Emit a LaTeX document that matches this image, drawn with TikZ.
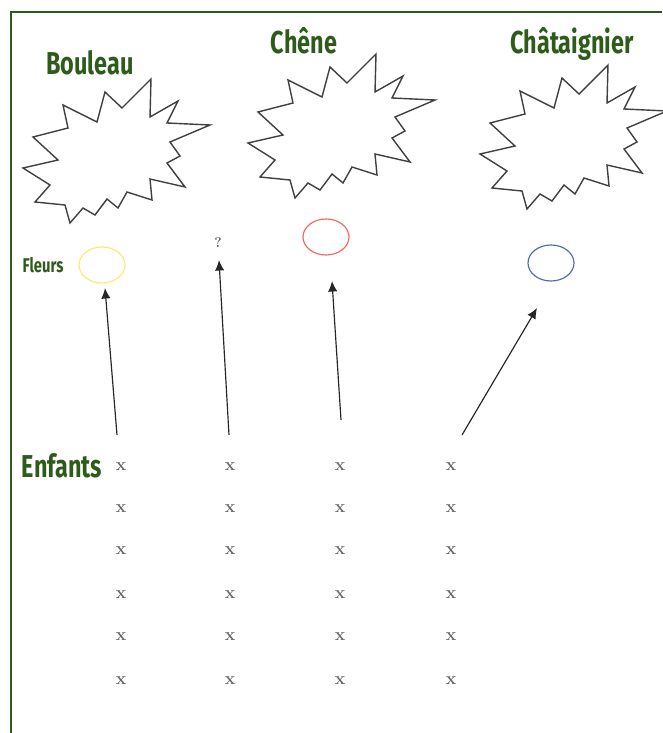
\documentclass[tikz,border=0pt]{standalone}
\usepackage{fontspec}
\newfontfamily\titrefont[FakeStretch=0.74]{Fira Sans}
\usetikzlibrary{arrows.meta,shapes.geometric}
\definecolor{vertfonce}{RGB}{45,92,26}
\definecolor{fleurjaune}{RGB}{250,235,110}
\definecolor{fleurrouge}{RGB}{240,105,95}
\definecolor{fleurbleue}{RGB}{85,105,175}
\tikzset{
  titre/.style={font=\titrefont\bfseries\fontsize{27}{29}\selectfont, text=vertfonce, inner sep=0pt, anchor=base},
  etoile/.style={draw=black!75, line width=1.2pt, line join=miter},
  fleur/.style={ellipse, line width=1pt, minimum width=1.38cm, minimum height=1.08cm, inner sep=0pt},
  enfant/.style={font=\bfseries\fontsize{15}{15}\selectfont, text=black!60, inner sep=0pt},
  lien/.style={draw=black!85, line width=1pt, -{Latex[length=9pt,width=8pt]}}
}
\begin{document}
\begin{tikzpicture}[x=0.03cm, y=-0.03cm]
  \useasboundingbox (0,0) rectangle (662,733);
  \draw[vertfonce, line width=1pt] (11,733) -- (11,12) -- (662,12);
  % arbres
  \foreach \dx/\dy in {0/0, 225/-25, 457/-14} {
    \begin{scope}[shift={(\dx,\dy)}]
      \draw[etoile] (151,79) -- (150,117) -- (178,101) -- (167,123) -- (210,125)
        -- (170,142) -- (180,156) -- (167,163) -- (185,187) -- (150,179)
        -- (152,200) -- (127,192) -- (118,208) -- (107,199) -- (95,215)
        -- (83,208) -- (70,223) -- (65,205) -- (35,202) -- (50,185)
        -- (23,168) -- (58,160) -- (33,137) -- (68,128) -- (63,105)
        -- (97,122) -- (105,92) -- (122,108) -- cycle;
    \end{scope}
  }
  \node[titre] (bouleau) at (90,75) {Bouleau};
  \node[titre] (chene) at (304,54) {Chêne};
  \node[titre] (chataignier) at (572,54) {Châtaignier};
  % fleurs
  \node[titre, font=\titrefont\bfseries\fontsize{17}{19}\selectfont] (fleurs) at (43,272) {Fleurs};
  \node[fleur, draw=fleurjaune] (fleur-bouleau) at (102,265) {};
  \node[fleur, draw=fleurrouge] (fleur-chene) at (326,237) {};
  \node[fleur, draw=fleurbleue] (fleur-chataignier) at (551,263) {};
  \node[font=\bfseries\fontsize{12}{12}\selectfont, text=black!65, inner sep=0pt] (inconnu) at (218,243) {?};
  % enfants
  \node[titre] (enfants) at (62,477) {Enfants};
  \foreach \c/\xx in {1/121, 2/230, 3/340, 4/451}
    \foreach \r/\yy in {1/467, 2/509, 3/551, 4/595, 5/637, 6/681}
      \node[enfant] (x-\c-\r) at (\xx,\yy) {x};
  \coordinate (depart-1) at (117,435);
  \coordinate (depart-2) at (229,435);
  \coordinate (depart-3) at (341,420);
  \coordinate (depart-4) at (462,435);
  \coordinate (pointe-1) at (105,288);
  \coordinate (pointe-2) at (219,260);
  \coordinate (pointe-3) at (332,281);
  \coordinate (pointe-4) at (537,308);
  \foreach \k in {1,...,4} \draw[lien] (depart-\k) -- (pointe-\k);
\end{tikzpicture}
\end{document}
